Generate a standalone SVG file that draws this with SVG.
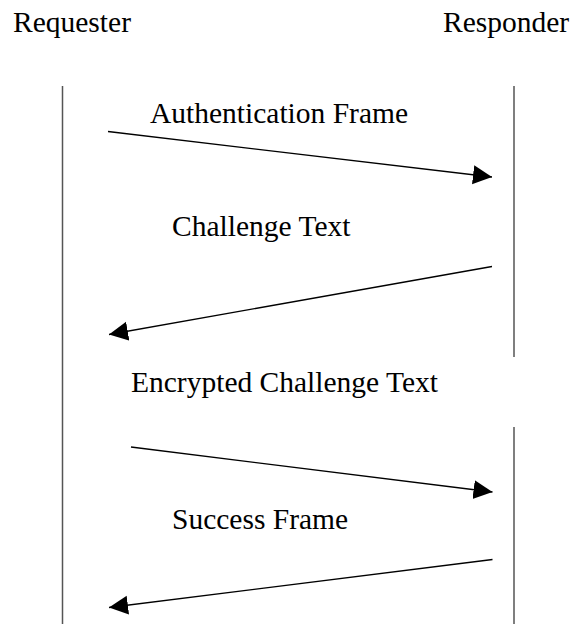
<svg xmlns="http://www.w3.org/2000/svg" width="573" height="624" viewBox="0 0 573 624">
  <style>
    .t { font-family: "Liberation Serif", "Times New Roman", serif; font-size: 29.5px; fill: #000; }
    .life { stroke: #555; stroke-width: 1.5; fill: none; }
    .msg { stroke: #000; stroke-width: 1.3; fill: none; marker-end: url(#ah); }
  </style>
  <defs>
    <marker id="ah" markerUnits="userSpaceOnUse" markerWidth="20" markerHeight="20" viewBox="0 0 20 20" refX="19" refY="10" orient="auto">
      <path d="M0,0.5 L19,10 L0,19.5 Z" fill="#000"/>
    </marker>
  </defs>
  <rect width="573" height="624" fill="#fff"/>
  <g id="requester">
    <text class="t" x="13" y="32">Requester</text>
    <line class="life" x1="62.5" y1="86" x2="62.5" y2="624"/>
  </g>
  <g id="responder">
    <text class="t" x="443" y="32">Responder</text>
    <line class="life" x1="514" y1="86" x2="514" y2="357"/>
    <line class="life" x1="514" y1="427" x2="514" y2="624"/>
  </g>
  <g id="labels">
    <text class="t" x="150" y="123">Authentication Frame</text>
    <text class="t" x="172" y="236">Challenge Text</text>
    <text class="t" x="131" y="392">Encrypted Challenge Text</text>
    <text class="t" x="172" y="529">Success Frame</text>
  </g>
  <g id="connectors">
    <line class="msg" x1="108" y1="131.5" x2="492" y2="177"/>
    <line class="msg" x1="492" y1="266.5" x2="109" y2="334.5"/>
    <line class="msg" x1="131" y1="447" x2="492.5" y2="492"/>
    <line class="msg" x1="492.5" y1="559.5" x2="109" y2="607.5"/>
  </g>
</svg>
